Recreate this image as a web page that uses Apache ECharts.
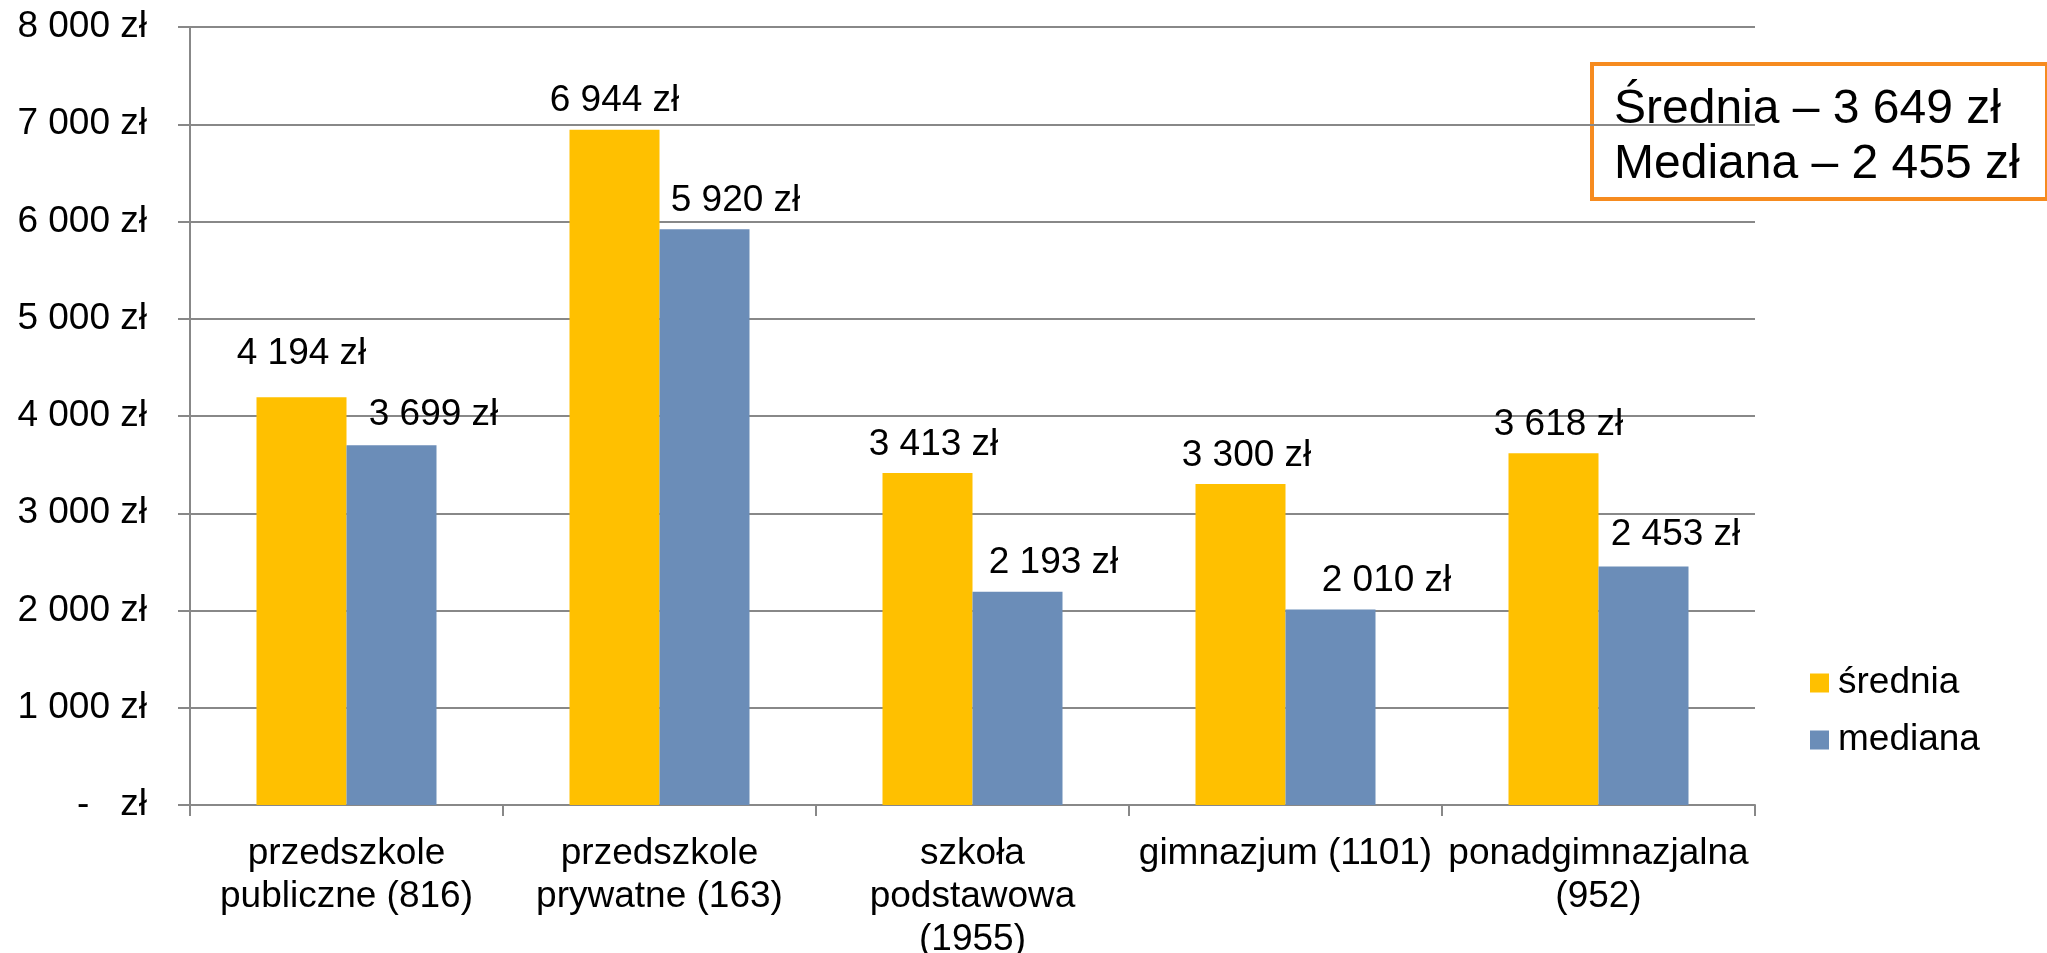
<!DOCTYPE html>
<html>
<head>
<meta charset="utf-8">
<script src="https://cdn.jsdelivr.net/npm/echarts@6/dist/echarts.min.js"></script>
<style>
  html, body { margin: 0; padding: 0; background: #fff; }
  #chart { width: 2047px; height: 953px; }
</style>
</head>
<body>
<div id="chart"></div>
<script>
// dane
const categories = [
  'przedszkole\npubliczne (816)',
  'przedszkole\nprywatne (163)',
  'szkoła\npodstawowa\n(1955)',
  'gimnazjum (1101)',
  'ponadgimnazjalna\n(952)'
]
const sredniaValues = [4194, 6944, 3413, 3300, 3618]
const medianaValues = [3699, 5920, 2193, 2010, 2453]
const summaryLines = ['Średnia – 3 649 zł', 'Mediana – 2 455 zł']

// przesunięcia etykiet (jak w oryginale)
const sredniaLabelShift = [[0, -15], [0, 0], [6, 0], [6, 0], [5, 0]]
const medianaLabelShift = [[42, -2], [31, 0], [36, 0], [56, 0], [32, -3]]

const font = "'Liberation Sans', Arial, sans-serif"

function zl (v) {
  if (v === 0) return '-   zł'
  return String(v).replace(/\B(?=(\d{3})+(?!\d))/g, ' ') + ' zł'
}

function withLabels (values, shifts) {
  return values.map((v, i) => ({
    value: v,
    label: { offset: shifts[i] }
  }))
}

const labelStyle = {
  show: true,
  position: 'top',
  distance: 10,
  color: '#000',
  fontFamily: font,
  fontSize: 37,
  lineHeight: 37,
  formatter: p => zl(p.value)
}

let myChart = echarts.init(document.getElementById('chart'))
myChart.setOption({
  animation: false,
  backgroundColor: '#fff',
  grid: {
    left: 190,
    right: 292,
    top: 27,
    bottom: 148,
    containLabel: false,
    outerBoundsMode: 'none'
  },
  legend: {
    orient: 'vertical',
    left: 1805,
    top: 659,
    icon: 'rect',
    itemWidth: 19,
    itemHeight: 19,
    itemGap: 19,
    textStyle: {
      color: '#000',
      fontFamily: font,
      fontSize: 37,
      lineHeight: 38,
      padding: [0, 0, 0, 4]
    },
    data: ['średnia', 'mediana']
  },
  xAxis: {
    type: 'category',
    data: categories,
    axisLine: { lineStyle: { color: '#888', width: 2 } },
    axisTick: { show: true, length: 11, lineStyle: { color: '#888', width: 2 } },
    axisLabel: {
      interval: 0,
      margin: 27,
      color: '#000',
      fontFamily: font,
      fontSize: 37,
      lineHeight: 43
    }
  },
  yAxis: {
    type: 'value',
    min: 0,
    max: 8000,
    interval: 1000,
    axisLine: { show: true, lineStyle: { color: '#888', width: 2 } },
    axisTick: { show: true, length: 12, lineStyle: { color: '#888', width: 2 } },
    splitLine: { lineStyle: { color: '#888', width: 2 } },
    axisLabel: {
      margin: 43,
      color: '#000',
      fontFamily: font,
      fontSize: 37,
      formatter: zl
    }
  },
  series: [
    {
      name: 'średnia',
      type: 'bar',
      barWidth: 90,
      barGap: '0%',
      itemStyle: { color: '#FFC000' },
      label: labelStyle,
      data: withLabels(sredniaValues, sredniaLabelShift)
    },
    {
      name: 'mediana',
      type: 'bar',
      barWidth: 90,
      barGap: '0%',
      itemStyle: { color: '#6B8DB8' },
      label: labelStyle,
      data: withLabels(medianaValues, medianaLabelShift)
    }
  ],
  graphic: [
    {
      type: 'group',
      left: 1590,
      top: 62,
      z: 100,
      children: [
        {
          type: 'rect',
          shape: { x: 0, y: 0, width: 455, height: 135 },
          style: { fill: '#fff', stroke: '#F68B1F', lineWidth: 4 }
        },
        {
          type: 'text',
          x: 22,
          y: 18,
          style: {
            text: summaryLines.join('\n'),
            fill: '#000',
            font: '48px ' + font,
            lineHeight: 55
          }
        }
      ]
    }
  ]
})
</script>
</body>
</html>
